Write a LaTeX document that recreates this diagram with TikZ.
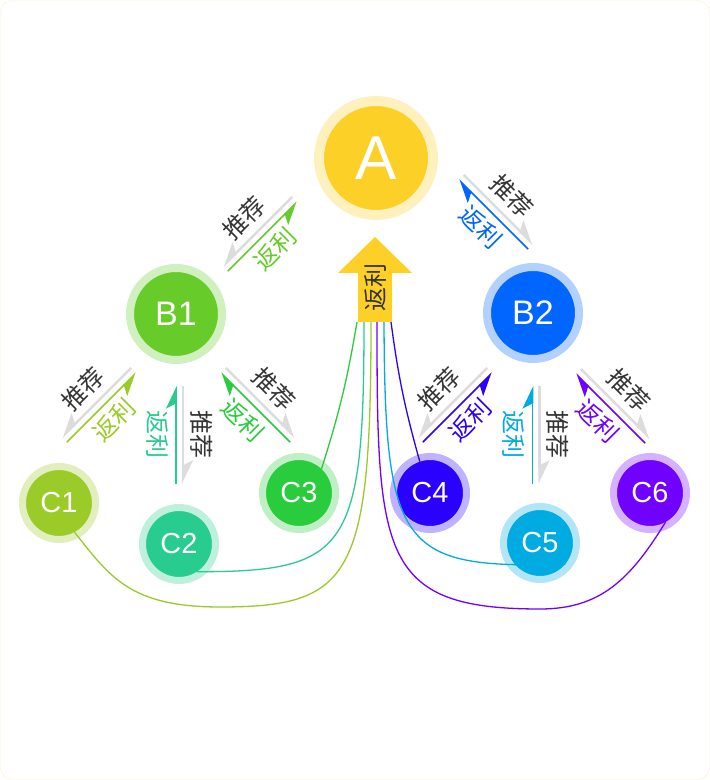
\documentclass[tikz,border=0pt]{standalone}
\usepackage{fontspec}
\setmainfont{Liberation Sans}
\newfontfamily\cjk{Noto Sans CJK SC}
\usepackage{tikz}
\usetikzlibrary{arrows.meta,calc}
\definecolor{giallo}{HTML}{FDD027}
\definecolor{verdeB}{HTML}{67CC2A}
\definecolor{bluB}{HTML}{0066FF}
\definecolor{cgialloverde}{HTML}{9BCB28}
\definecolor{cteal}{HTML}{29CC8F}
\definecolor{cverde}{HTML}{29CC3D}
\definecolor{cblu}{HTML}{2A00FF}
\definecolor{cciano}{HTML}{00ABE1}
\definecolor{cviola}{HTML}{7000FF}
\definecolor{grigiochiaro}{HTML}{DCDCDC}
\definecolor{testo}{HTML}{333333}
\definecolor{bordo}{HTML}{FAF0D2}
\tikzset{
    every node/.style={font=\cjk\fontsize{24}{28}\selectfont},
}

\begin{document}
\begin{tikzpicture}[x=1pt,y=1pt,
        ball/.style={circle,fill=#1,draw=#1!30,text=white,inner sep=0pt},
        grande/.style={minimum size=114pt,line width=10pt,outer sep=-5pt,font=\fontsize{62}{62}\selectfont},
        medio/.style={minimum size=92pt,line width=8pt,outer sep=-4pt,font=\fontsize{34}{34}\selectfont},
        piccolo/.style={minimum size=73pt,line width=7pt,outer sep=-3.5pt,font=\fontsize{29}{29}\selectfont},
        grigio/.style={draw=grigiochiaro,line width=2.5pt},
        ritorno/.style={draw=#1,line width=1.5pt},
        harpl/.style={-{Stealth[harpoon,length=21pt,width=20pt,inset=5pt]}},
        harpr/.style={-{Stealth[harpoon,swap,length=21pt,width=20pt,inset=5pt]}},
        filo/.style={draw=#1,line width=1.3pt}
    ]

    % sfondo
    \draw[draw=bordo,fill=white,rounded corners=12pt] (0.5,0.5) rectangle (709.5,779.5);
    \useasboundingbox (0,0) rectangle (710,780);

    % nodi
    \node[ball=giallo,grande] (A) at (376,622) {A};
    \node[ball=verdeB,medio] (B1) at (176,466) {B1};
    \node[ball=bluB,medio] (B2) at (533,467) {B2};
    \node[ball=cgialloverde,piccolo] (C1) at (59,277) {C1};
    \node[ball=cteal,piccolo] (C2) at (179,236) {C2};
    \node[ball=cverde,piccolo] (C3) at (299,287) {C3};
    \node[ball=cblu,piccolo] (C4) at (430,287) {C4};
    \node[ball=cciano,piccolo] (C5) at (540,237) {C5};
    \node[ball=cviola,piccolo] (C6) at (650,287) {C6};

    % linee di ritorno verso la freccia
    \coordinate (piede) at (375,458);
    \draw[filo=cgialloverde] (C1.-62) .. controls (110,203) and (130,173) .. (220,173) .. controls (352,173) and (371,203) .. ($(piede)+(-4,0)$);
    \draw[filo=cteal] (C2.-57) .. controls (348,208) and (364,230) .. ($(piede)+(-11,0)$);
    \draw[filo=cverde] (C3.47) to[bend right=4] ($(piede)+(-18,0)$);
    \draw[filo=cblu] (C4.108) to[bend left=4] ($(piede)+(16,0)$);
    \draw[filo=cciano] (C5.-40) .. controls (401,211) and (385,230) .. ($(piede)+(9,0)$);
    \draw[filo=cviola] (C6.-62) .. controls (630,200) and (600,171) .. (540,171) .. controls (380,171) and (377,225) .. ($(piede)+(2,0)$);

    % freccia centrale
    \fill[giallo] (358,458) -- (358,507) -- (338,507) -- (375,543) -- (412,507) -- (392,507) -- (392,458) -- cycle;
    \node[text=testo,rotate=90] (up) at (375,492) {返利};

    % coppie di frecce
    \foreach \px/\py/\ang/\h/\tip/\col in {
        260/546/45/-1/harpr/verdeB,
        496/568/-45/1/harpl/bluB,
        99/375/45/-1/harpr/cgialloverde,
        179.5/345/-90/1/harpl/cteal,
        258/375/-45/1/harpl/cverde,
        455/375/45/-1/harpr/cblu,
        536/345/-90/1/harpl/cciano,
        613/374/-45/1/harpl/cviola}
    {
        \begin{scope}[shift={(\px,\py)},rotate=\ang]
            \draw[grigio,\tip] ({-49*\h},3.5) -- ({49*\h},3.5);
            \draw[ritorno=\col,\tip] ({49*\h},-3.5) -- ({-49*\h},-3.5);
            \node[text=testo,rotate=\ang] at (0,22) {推荐};
            \node[text=\col,rotate=\ang] at (0,-22) {返利};
        \end{scope}
    }
\end{tikzpicture}
\end{document}
